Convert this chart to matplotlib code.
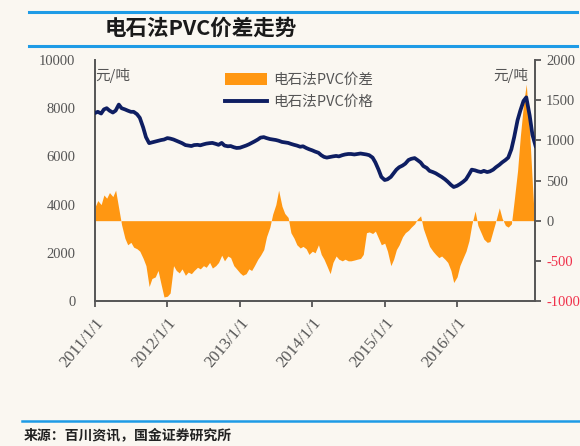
import matplotlib
matplotlib.use("Agg")
import matplotlib.pyplot as plt
import pandas as pd
from matplotlib.lines import Line2D
from matplotlib.patches import Patch

plt.rcParams['font.family'] = ['Noto Sans CJK SC', 'DejaVu Sans']

# ---------------- data (semi-monthly, 2011/1/1 .. 2017/1/1) ----------------
dates = pd.date_range("2011-01-01", periods=147, freq="SMS")

spread = [170, 250, 200, 320, 280, 350, 300, 380, 150, -50,
          -220, -300, -270, -330, -350, -380, -470, -560, -820, -720,
          -700, -620, -800, -950, -940, -900, -560, -620, -650, -600,
          -680, -640, -660, -620, -580, -600, -560, -580, -520, -590,
          -560, -520, -430, -500, -440, -460, -560, -600, -650, -680,
          -660, -600, -620, -560, -480, -430, -360, -200, -80, 80,
          200, 380, 180, 90, 40, -150, -220, -300, -340, -320,
          -350, -420, -380, -400, -300, -420, -480, -560, -660, -520,
          -440, -480, -500, -480, -500, -500, -490, -480, -470, -420,
          -150, -140, -160, -130, -220, -300, -280, -380, -560, -480,
          -360, -300, -200, -150, -120, -80, -40, 20, 60, -100,
          -220, -320, -380, -420, -460, -440, -480, -520, -620, -770,
          -700, -560, -460, -380, -250, -50, 120, -60, -150, -230,
          -270, -260, -120, 0, 160, 30, -60, -80, -40, 250,
          620, 1050, 1450, 1700, 1100, 450, -280]

price = [7800, 7850, 7780, 7950, 8000, 7900, 7820, 7900, 8150, 8000,
         7950, 7900, 7850, 7850, 7750, 7600, 7200, 6800, 6550, 6580,
         6620, 6650, 6680, 6700, 6760, 6740, 6700, 6650, 6600, 6550,
         6470, 6450, 6430, 6470, 6480, 6460, 6500, 6530, 6550, 6560,
         6520, 6480, 6560, 6450, 6420, 6430, 6380, 6350, 6360, 6400,
         6450, 6500, 6560, 6620, 6700, 6780, 6800, 6760, 6720, 6700,
         6680, 6650, 6600, 6580, 6560, 6520, 6480, 6450, 6400, 6420,
         6350, 6300, 6250, 6200, 6150, 6050, 5980, 5950, 5980, 6000,
         6020, 6000, 6050, 6080, 6100, 6100, 6080, 6100, 6120, 6100,
         6080, 6050, 5950, 5750, 5450, 5150, 5020, 5050, 5150, 5300,
         5450, 5550, 5620, 5700, 5850, 5900, 5930, 5850, 5750, 5600,
         5520, 5400, 5350, 5300, 5220, 5150, 5050, 4950, 4820, 4730,
         4780, 4850, 4950, 5050, 5250, 5450, 5420, 5380, 5350, 5400,
         5350, 5380, 5450, 5550, 5650, 5750, 5850, 5950, 6300, 6800,
         7500, 7900, 8300, 8450, 7700, 6900, 6400]

left_ticks = [0, 2000, 4000, 6000, 8000, 10000]
right_ticks = [-1000, -500, 0, 500, 1000, 1500, 2000]
xtick_dates = ["2011-01-01", "2012-01-01", "2013-01-01", "2014-01-01", "2015-01-01", "2016-01-01"]
xtick_labels = ["2011/1/1", "2012/1/1", "2013/1/1", "2014/1/1", "2015/1/1", "2016/1/1"]
title = "电石法PVC价差走势"
series_names = ["电石法PVC价差", "电石法PVC价格"]
unit = "元/吨"
source = "来源：百川资讯，国金证券研究所"

# ---------------- style ----------------
ORANGE = "#FF9712"
NAVY = "#0E1E62"
GRAY = "#555555"
BLUE = "#1E9BE6"
BG = "#FAF7F1"
SERIF = ["Liberation Serif", "DejaVu Serif"]

fig = plt.figure(figsize=(5.8, 4.46), dpi=100, facecolor=BG)

# title band lines
fig.add_artist(Line2D([0.05, 0.995], [1 - 12 / 446] * 2, color=BLUE, lw=2.2, transform=fig.transFigure))
fig.add_artist(Line2D([0.05, 0.995], [1 - 46 / 446] * 2, color=BLUE, lw=2.2, transform=fig.transFigure))
fig.text(105 / 580, 1 - 28 / 446, title, fontsize=15.5, fontweight="bold", color="#1a1a1a",
         va="center", ha="left", style="italic")

# footer
fig.add_artist(Line2D([22 / 580, 0.998], [1 - 421 / 446] * 2, color=BLUE, lw=1.8, transform=fig.transFigure))
fig.text(24 / 580, 1 - 435 / 446, source, fontsize=10, fontweight="bold", color="#222222",
         va="center", ha="left")

# axes
ax = fig.add_axes([95 / 580, 1 - 301 / 446, 440 / 580, 241 / 446])
ax2 = ax.twinx()
ax.set_zorder(2)
ax2.set_zorder(1)
ax.patch.set_visible(False)
ax2.patch.set_facecolor(BG)

ax2.fill_between(dates, 0, spread, color=ORANGE, lw=0, zorder=1)
ax.plot(dates, price, color=NAVY, lw=2.7, solid_joinstyle="round", solid_capstyle="round", zorder=3)

ax.set_ylim(0, 10000)
ax2.set_ylim(-1000, 2000)
ax.set_xlim(pd.Timestamp("2011-01-01"), pd.Timestamp("2017-01-28"))

ax.set_yticks(left_ticks)
ax.set_yticklabels([str(v) for v in left_ticks], fontfamily=SERIF, fontsize=10.5, color=GRAY)
ax.tick_params(axis="y", length=0, pad=14)

ax2.set_yticks(right_ticks)
ax2.set_yticklabels([str(v) for v in right_ticks], fontfamily=SERIF, fontsize=10.5)
for t, v in zip(ax2.get_yticklabels(), right_ticks):
    t.set_color("#F0304A" if v < 0 else GRAY)
ax2.tick_params(axis="y", length=4, width=1.3, color=GRAY, pad=4)

ax.set_xticks([pd.Timestamp(d) for d in xtick_dates])
ax.set_xticklabels(xtick_labels, rotation=50, ha="right", rotation_mode="anchor",
                   fontfamily=SERIF, fontsize=12, color=GRAY)
ax.tick_params(axis="x", length=4, width=1.3, color=GRAY, pad=6)

for a in (ax, ax2):
    a.spines["top"].set_visible(False)
    for s in ("left", "right", "bottom"):
        a.spines[s].set_color(GRAY)
        a.spines[s].set_linewidth(1.4)
ax.spines["right"].set_visible(False)
ax2.spines["left"].set_visible(False)
ax2.spines["bottom"].set_visible(False)

# unit labels
ax.text(0.0, 0.935, unit, transform=ax.transAxes, fontsize=10.5, color=GRAY, ha="left", va="center")
ax.text(0.985, 0.935, unit, transform=ax.transAxes, fontsize=10.5, color=GRAY, ha="right", va="center")

# legend
handles = [Patch(facecolor=ORANGE, edgecolor="none"),
           Line2D([0], [0], color=NAVY, lw=2.8)]
leg = ax.legend(handles, series_names, loc="upper left", bbox_to_anchor=(0.265, 1.0),
                frameon=False, fontsize=10.5, handlelength=2.9, handleheight=0.8,
                labelspacing=0.55, handletextpad=0.4, borderpad=0.4, labelcolor=GRAY)

fig.savefig("out.png", dpi=100, facecolor=BG)
